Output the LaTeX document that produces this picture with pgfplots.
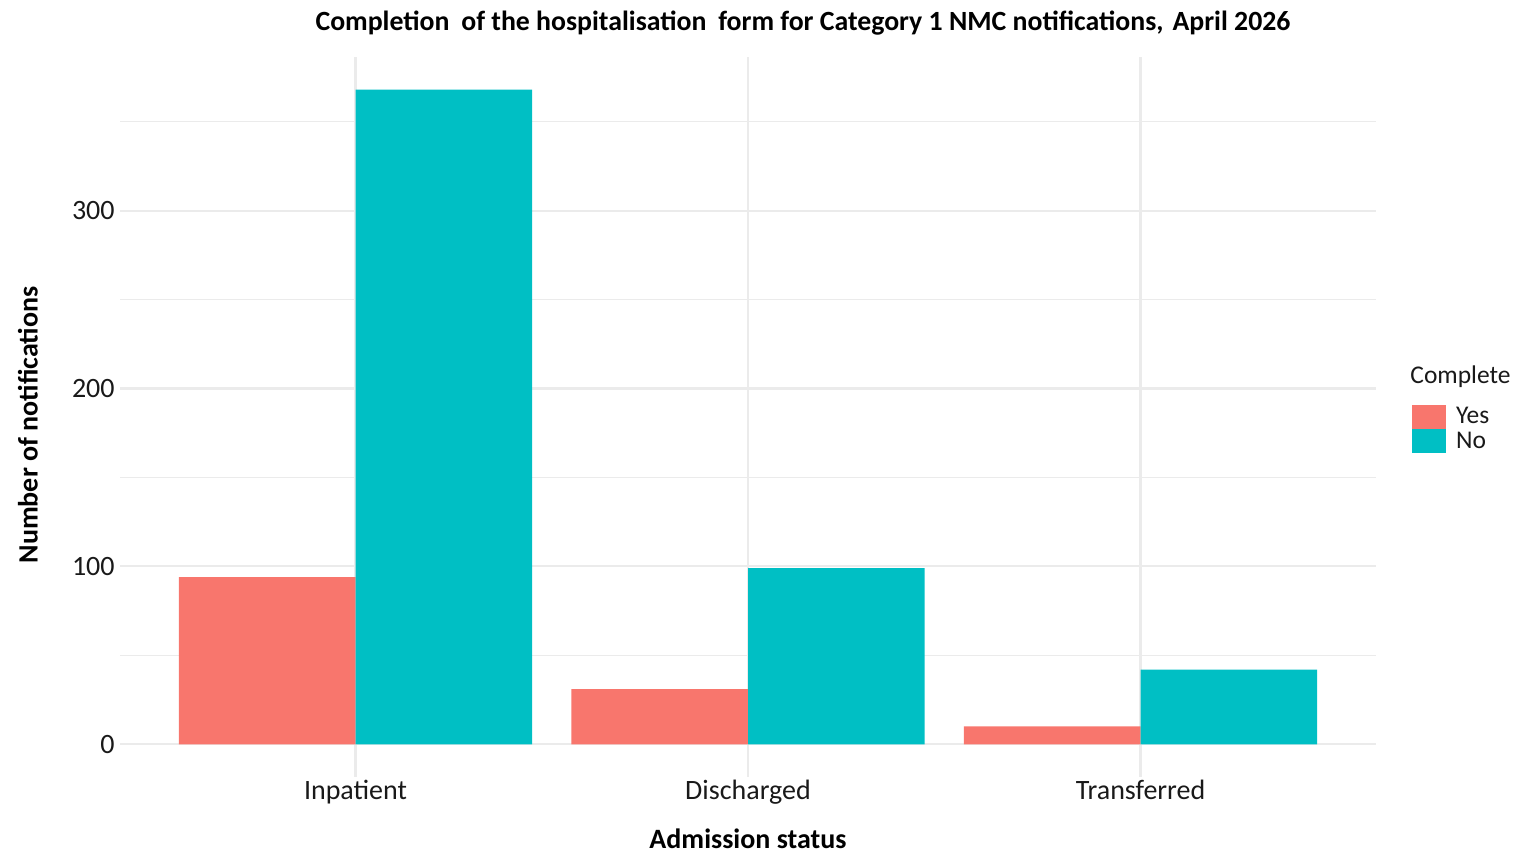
\documentclass[border=0pt]{standalone}
\usepackage{pgfplots}
\pgfplotsset{compat=1.18}
\usepackage{fontspec}
\setmainfont{Carlito}
\definecolor{cyes}{HTML}{F8766D}
\definecolor{cno}{HTML}{00BFC4}
\definecolor{gridc}{HTML}{EBEBEB}
\begin{document}
\begin{tikzpicture}
\useasboundingbox (0,0) rectangle (758.5pt,427pt);
\begin{axis}[
  at={(60pt,38.5pt)}, anchor=south west,
  scale only axis, width=628pt, height=360pt,
  xmin=0.4, xmax=3.6, ymin=-18.4, ymax=386.4,
  axis line style={draw=none},
  major tick length=0pt, minor tick length=0pt,
  xtick={1,2,3}, xticklabels={Inpatient,Discharged,Transferred},
  ytick={0,100,200,300}, minor ytick={50,150,250,350},
  xmajorgrids, ymajorgrids, yminorgrids,
  major grid style={gridc, line width=1.1pt},
  minor grid style={gridc, line width=0.55pt},
  tick label style={font=\fontsize{14}{16}\selectfont, text=black!90},
  yticklabel style={inner sep=0pt, xshift=-2.5pt},
  xticklabel style={inner sep=0pt, yshift=-1.5pt},
  /pgf/number format/assume math mode=true,
  ybar, bar width=0.45,
  legend style={at={(1.0287,0.519)}, anchor=north west, draw=none, fill=none,
    inner sep=0pt, outer sep=0pt, row sep=-1.5pt,
    font=\fontsize{12.75}{13}\selectfont, text=black!90,
    legend cell align=left,
    /tikz/every odd column/.append style={column sep=3pt}},
]
\addplot[fill=cyes, draw=none, bar shift=-0.225,
  legend image code/.code={\fill[cyes] (0pt,-6pt) rectangle (17pt,6pt);}]
  coordinates {(1,94) (2,31) (3,10)};
\addplot[fill=cno, draw=none, bar shift=0.225,
  legend image code/.code={\fill[cno] (0pt,-6pt) rectangle (17pt,6pt);}]
  coordinates {(1,368) (2,99) (3,42)};
\legend{Yes,No}
\end{axis}
\node[font=\bfseries\fontsize{13.9}{15}\selectfont] at (401.5pt,415.5pt)
  {Completion\hspace{0.2em} of the hospitalisation\hspace{0.2em} form for Category 1 NMC notifications,\hspace{0.1em} April 2026};
\node[rotate=90, font=\bfseries\fontsize{14}{16}\selectfont] at (14pt,214.5pt) {Number of notifications};
\node[font=\bfseries\fontsize{14}{16}\selectfont] at (374pt,7.5pt) {Admission status};
\node[anchor=west, inner sep=0pt, font=\fontsize{12.75}{14}\selectfont, text=black!90] at (705pt,238.5pt) {Complete};
\end{tikzpicture}
\end{document}
